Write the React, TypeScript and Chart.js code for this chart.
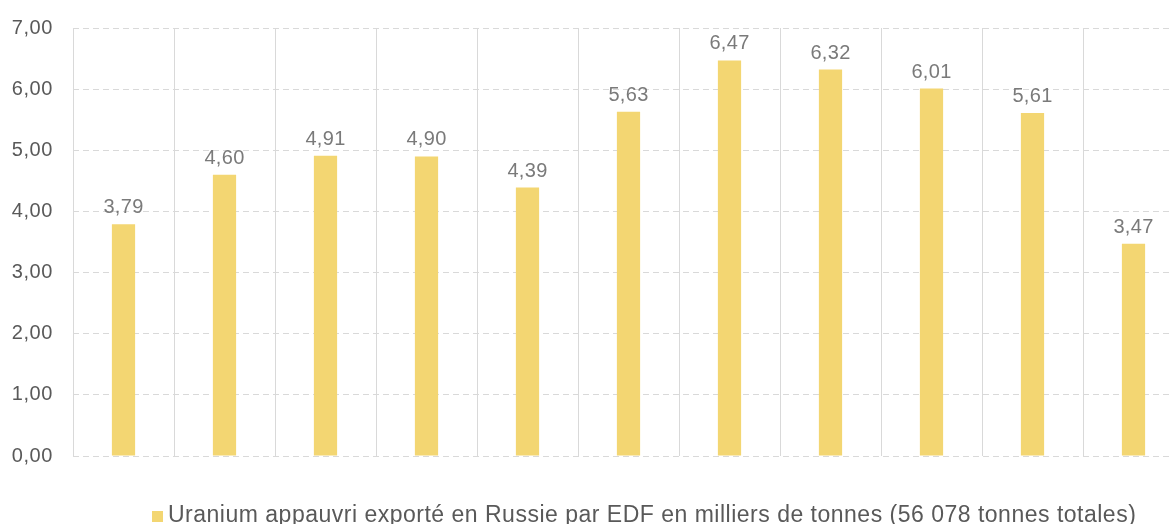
import React, { useEffect, useRef } from "react";
import { Chart, registerables } from "chart.js";

Chart.register(...registerables);

const categories = ["1", "2", "3", "4", "5", "6", "7", "8", "9", "10", "11"];
const values = [3.79, 4.6, 4.91, 4.9, 4.39, 5.63, 6.47, 6.32, 6.01, 5.61, 3.47];
const yMin = 0;
const yMax = 7;
const yStep = 1;
const seriesLabel =
  "Uranium appauvri exporté en Russie par EDF en milliers de tonnes (56 078 tonnes totales)";
const barColor = "#F3D672";

const fmt = (v: number) => v.toFixed(2).replace(".", ",");

const FONT = "'Liberation Sans', Arial, Helvetica, sans-serif";

const spacing = {
  id: "spacing",
  beforeDraw(chart: any) {
    (chart.ctx as any).letterSpacing = "0.6px";
  },
};

const valueLabels = {
  id: "valueLabels",
  afterDatasetsDraw(chart: any) {
    const ctx = chart.ctx;
    const meta = chart.getDatasetMeta(0);
    ctx.save();
    ctx.letterSpacing = "0.3px";
    ctx.font = `20px ${FONT}`;
    ctx.fillStyle = "#7a7a7a";
    ctx.textAlign = "center";
    ctx.textBaseline = "alphabetic";
    meta.data.forEach((bar: any, i: number) => {
      ctx.fillText(fmt(values[i]), bar.x, bar.y - 11);
    });
    ctx.restore();
  },
};

const bottomLegend = {
  id: "bottomLegend",
  afterDraw(chart: any) {
    const ctx = chart.ctx;
    ctx.save();
    ctx.letterSpacing = "0.5px";
    ctx.font = `23px ${FONT}`;
    const box = 11;
    const x0 = 152;
    const base = 522;
    ctx.fillStyle = barColor;
    ctx.fillRect(x0, base - box, box, box);
    ctx.fillStyle = "#595959";
    ctx.textAlign = "left";
    ctx.textBaseline = "alphabetic";
    ctx.fillText(seriesLabel, 168, base);
    ctx.restore();
  },
};

export default function App() {
  const ref = useRef<HTMLCanvasElement | null>(null);

  useEffect(() => {
    if (!ref.current) return;
    const chart = new Chart(ref.current, {
      type: "bar",
      data: {
        labels: categories,
        datasets: [
          {
            label: seriesLabel,
            data: values,
            backgroundColor: barColor,
            borderWidth: 0,
            barPercentage: 0.23,
            categoryPercentage: 1,
          },
        ],
      },
      options: {
        responsive: false,
        animation: false,
        layout: { padding: { top: 28, bottom: 68, left: 0, right: 16 } },
        plugins: {
          legend: { display: false },
          tooltip: { enabled: false },
        },
        scales: {
          x: {
            offset: true,
            grid: {
              display: true,
              offset: true,
              color: "#d9d9d9",
              lineWidth: 1,
              drawTicks: false,
            },
            border: { display: false },
            ticks: { display: false },
            afterFit(scale: any) {
              scale.height = 0;
              scale.paddingLeft = 0;
              scale.paddingRight = 0;
            },
          },
          y: {
            min: yMin,
            max: yMax,
            afterFit(scale: any) {
              scale.width = 73;
              scale.paddingTop = 0;
              scale.paddingBottom = 0;
            },
            ticks: {
              stepSize: yStep,
              padding: 20,
              color: "#595959",
              font: { family: FONT, size: 20 },
              callback: (v: any) => fmt(Number(v)),
            },
            grid: {
              color: "#d9d9d9",
              lineWidth: 1,
              drawTicks: false,
            },
            border: { display: false, dash: [6, 4] },
          },
        },
      },
      plugins: [spacing, valueLabels, bottomLegend],
    });
    return () => chart.destroy();
  }, []);

  return (
    <div
      style={{
        position: "fixed",
        left: 0,
        top: 0,
        width: 1172,
        height: 524,
        overflow: "hidden",
        background: "#fff",
      }}
    >
      <canvas ref={ref} width={1200} height={524} style={{ width: 1200, height: 524, display: "block" }} />
    </div>
  );
}
